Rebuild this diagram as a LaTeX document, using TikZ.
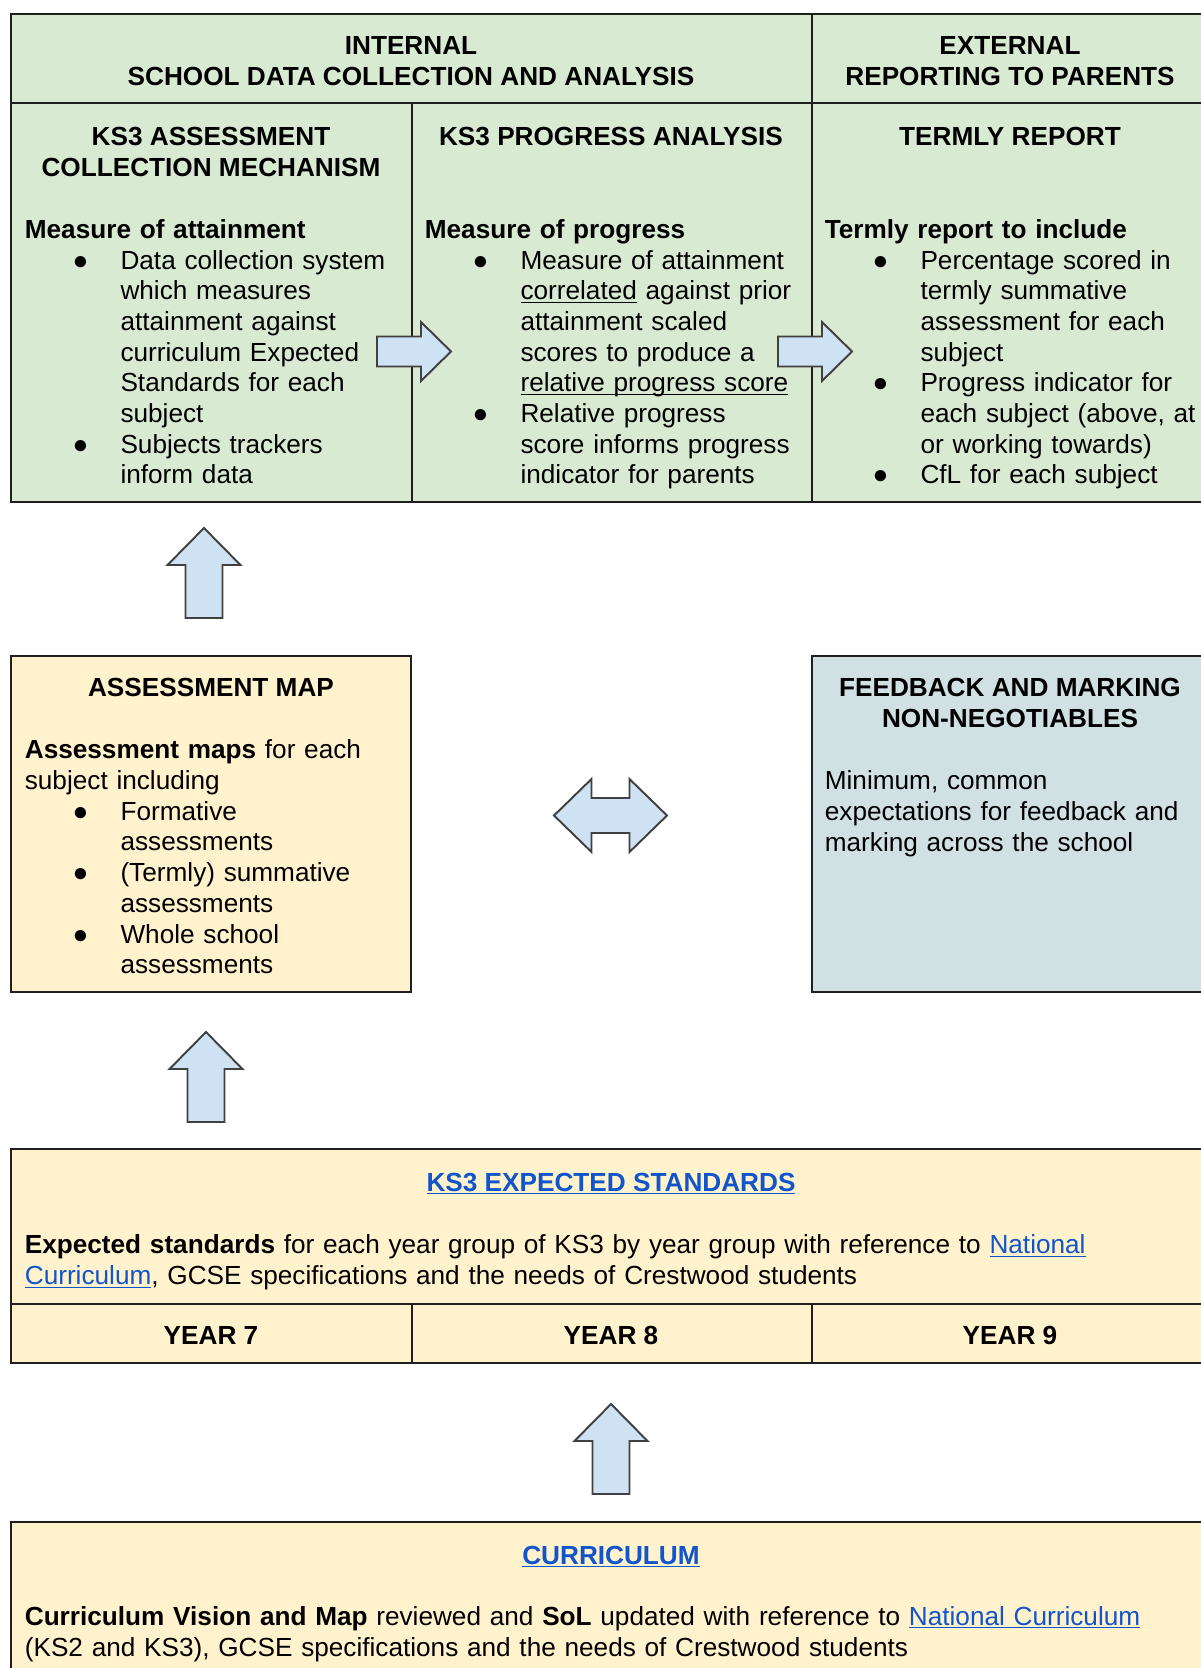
\documentclass[tikz,border=0pt]{standalone}
\usepackage{fontspec}
\setmainfont{Liberation Sans}
\usepackage{enumitem}

\definecolor{paleGreen}{HTML}{D9EAD3}
\definecolor{paleYellow}{HTML}{FFF2CC}
\definecolor{paleSlate}{HTML}{D0E0E3}
\definecolor{arrowBlue}{HTML}{CFE2F3}
\definecolor{linkBlue}{HTML}{1155CC}

\newcommand{\docfont}{\fontsize{14.9pt}{17.47pt}\selectfont}
\newcommand{\uln}[1]{\underline{\smash{#1}}}
\newcommand{\weblink}[1]{\textcolor{linkBlue}{\uln{#1}}}
\newlist{dotlist}{itemize}{1}
\setlist[dotlist]{label=\makebox[0pt]{●},leftmargin=1.914cm,labelsep=0.8cm,
  labelwidth=0pt,topsep=0pt,partopsep=0pt,parsep=0pt,itemsep=0pt}

\begin{document}
\begin{tikzpicture}[
  x=0.02cm,y=-0.02cm,
  frame/.style={draw=black!88,line width=1.5pt},
  blockarrow/.style={draw=black!75,fill=arrowBlue,line width=1.1pt,line join=miter},
  headtxt/.style={font=\docfont\bfseries,align=center,anchor=north,inner sep=0pt},
  bodytxt/.style={font=\docfont,align=left,anchor=north west,inner sep=0pt,text width=7.46cm},
  widetxt/.style={bodytxt,text width=23.4cm},
]
\useasboundingbox (0,0) rectangle (1201,1668);
\clip (0,0) rectangle (1201,1668);

% top table
\draw[frame,fill=paleGreen] (11,14) rectangle (1211,502);
\draw[frame] (11,103) -- (1211,103);
\draw[frame] (412,103) -- (412,502);
\draw[frame] (812,14) -- (812,502);

\node[headtxt] (hdInternal) at (411,32.5) {\strut INTERNAL\\SCHOOL DATA COLLECTION AND ANALYSIS};
\node[headtxt] (hdExternal) at (1010,32.5) {\strut EXTERNAL\\REPORTING TO PARENTS};
\node[headtxt] (hdCollect) at (211,124) {\strut KS3 ASSESSMENT\\COLLECTION MECHANISM};
\node[headtxt] (hdProgress) at (611,124) {\strut KS3 PROGRESS ANALYSIS};
\node[headtxt] (hdTermly) at (1010,124) {\strut TERMLY REPORT};

\node[bodytxt] (txCollect) at (24.5,216.5) {\strut\textbf{Measure of attainment}
  \begin{dotlist}
  \item Data collection system\\which measures\\attainment against\\curriculum Expected\\Standards for each\\subject
  \item Subjects trackers\\inform data
  \end{dotlist}};
\node[bodytxt] (txProgress) at (424.5,216.5) {\strut\textbf{Measure of progress}
  \begin{dotlist}
  \item Measure of attainment\\\uln{correlated} against prior\\attainment scaled\\scores to produce a\\\uln{relative progress score}
  \item Relative progress\\score informs progress\\indicator for parents
  \end{dotlist}};
\node[bodytxt] (txTermly) at (824.5,216.5) {\strut\textbf{Termly report to include}
  \begin{dotlist}
  \item Percentage scored in\\termly summative\\assessment for each\\subject
  \item Progress indicator for\\each subject (above, at\\or working towards)
  \item CfL for each subject
  \end{dotlist}};

\foreach \sx in {377,778} {
  \draw[blockarrow] (\sx,336.5) -- ++(44,0) -- ++(0,-14.5) -- ++(30,29.5)
    -- ++(-30,29.5) -- ++(0,-14.5) -- ++(-44,0) -- cycle;
}

% middle row
\draw[frame,fill=paleYellow] (11,656) rectangle (411,992);
\draw[frame,fill=paleSlate] (812,656) rectangle (1211,992);

\node[headtxt] (hdMap) at (211,675) {\strut ASSESSMENT MAP};
\node[bodytxt] (txMap) at (24.5,737) {\strut\textbf{Assessment maps} for each\\subject including
  \begin{dotlist}
  \item Formative\\assessments
  \item (Termly) summative\\assessments
  \item Whole school\\assessments
  \end{dotlist}};
\node[headtxt] (hdFeedback) at (1010,675) {\strut FEEDBACK AND MARKING\\NON-NEGOTIABLES};
\node[bodytxt] (txFeedback) at (824.5,768) {\strut Minimum, common\\expectations for feedback and\\marking across the school};

\draw[blockarrow] (554,815.5) -- (591.5,779) -- (591.5,798) -- (629.5,798) -- (629.5,779)
  -- (667,815.5) -- (629.5,852) -- (629.5,833) -- (591.5,833) -- (591.5,852) -- cycle;

% expected standards
\draw[frame,fill=paleYellow] (11,1149) rectangle (1211,1363);
\draw[frame] (11,1304) -- (1211,1304);
\foreach \dx in {412,812} {
  \draw[frame] (\dx,1304) -- (\dx,1363);
}
\node[headtxt] (hdStandards) at (611,1169.5) {\strut\weblink{KS3 EXPECTED STANDARDS}};
\node[widetxt] (txStandards) at (24.5,1232) {\strut\textbf{Expected standards} for each year group of KS3 by year group with reference to \weblink{National}\\\weblink{Curriculum}, GCSE specifications and the needs of Crestwood students};
\foreach \cx/\yr in {211/7,611/8,1010/9} {
  \node[headtxt] (year\yr) at (\cx,1323) {\strut YEAR \yr};
}

% curriculum
\draw[frame,fill=paleYellow] (11,1522) rectangle (1211,1700);
\node[headtxt] (hdCurriculum) at (611,1542.5) {\strut\weblink{CURRICULUM}};
\node[widetxt] (txCurriculum) at (24.5,1603.5) {\strut\textbf{Curriculum Vision and Map} reviewed and \textbf{SoL} updated with reference to \weblink{National Curriculum}\\(KS2 and KS3), GCSE specifications and the needs of Crestwood students};

\foreach \tx/\ty in {204/528,206/1032,611/1404} {
  \draw[blockarrow] (\tx,\ty) -- ++(36.5,37) -- ++(-18,0) -- ++(0,53) -- ++(-37,0)
    -- ++(0,-53) -- ++(-18,0) -- cycle;
}

\end{tikzpicture}
\end{document}
